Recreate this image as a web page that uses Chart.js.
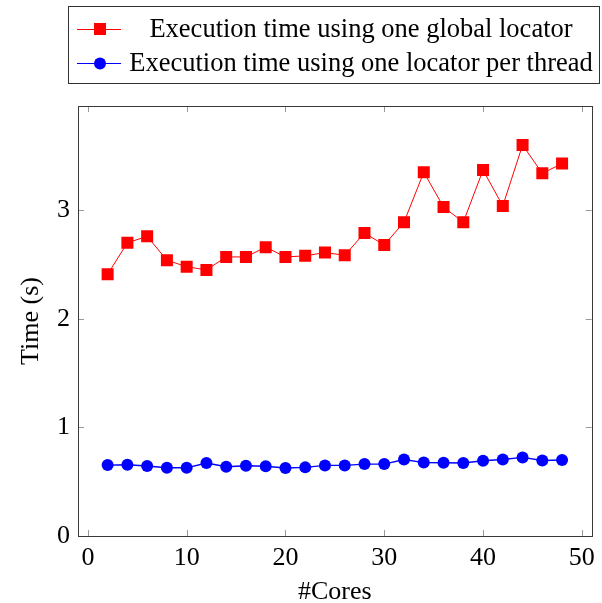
<!DOCTYPE html>
<html>
<head>
<meta charset="utf-8">
<script src="https://cdn.jsdelivr.net/npm/chart.js@4/dist/chart.umd.min.js"></script>
<style>
    html, body { margin: 0; padding: 0; background: #fff; }
    #wrap { width: 602px; height: 603px; }
</style>
</head>
<body>
<div id="wrap"><canvas id="chart" width="602" height="603"></canvas></div>
<script>
const cores = [2, 4, 6, 8, 10, 12, 14, 16, 18, 20, 22, 24, 26, 28, 30, 32, 34, 36, 38, 40, 42, 44, 46, 48];
const globalLocator = [2.41, 2.70, 2.76, 2.54, 2.48, 2.45, 2.57, 2.57, 2.66, 2.57, 2.58, 2.61,
    2.585, 2.79, 2.68, 2.89, 3.35, 3.03, 2.89, 3.37, 3.04, 3.60, 3.34, 3.43];
const perThreadLocator = [0.653, 0.656, 0.644, 0.628, 0.628, 0.672, 0.638, 0.647, 0.642, 0.626, 0.632, 0.650,
    0.650, 0.662, 0.662, 0.705, 0.676, 0.675, 0.672, 0.693, 0.705, 0.724, 0.696, 0.700];
const xTicks = [0, 10, 20, 30, 40, 50];
const yTicks = [0, 1, 2, 3];
const seriesLabels = ["Execution time using one global locator", "Execution time using one locator per thread"];

const FONT = "'Liberation Serif', 'DejaVu Serif', serif";

const boxPlugin = {
    id: "pgfBox",
    afterDraw(chart) {
        const ctx = chart.ctx;
        const area = chart.chartArea;
        const xs = chart.scales.x;
        const ys = chart.scales.y;
        ctx.save();
        // inner ticks
        ctx.strokeStyle = "#9a9a9a";
        ctx.lineWidth = 1;
        ctx.beginPath();
        xTicks.forEach((t) => {
            const px = Math.round(xs.getPixelForValue(t)) + 0.5;
            ctx.moveTo(px, area.bottom);
            ctx.lineTo(px, area.bottom - 6);
            ctx.moveTo(px, area.top);
            ctx.lineTo(px, area.top + 6);
        });
        yTicks.forEach((t) => {
            const py = Math.round(ys.getPixelForValue(t)) + 0.5;
            ctx.moveTo(area.left, py);
            ctx.lineTo(area.left + 6, py);
            ctx.moveTo(area.right, py);
            ctx.lineTo(area.right - 6, py);
        });
        ctx.stroke();
        // frame
        ctx.strokeStyle = "#3a3a3a";
        ctx.strokeRect(Math.round(area.left) + 0.5, Math.round(area.top) + 0.5,
            Math.round(area.right - area.left), Math.round(area.bottom - area.top));

        // legend
        const lx = 68.5, ly = 6.5, lw = 531, lh = 77;
        ctx.fillStyle = "#fff";
        ctx.fillRect(lx, ly, lw, lh);
        ctx.strokeStyle = "#333";
        ctx.strokeRect(lx, ly, lw, lh);
        const rows = [29, 63];
        chart.data.datasets.forEach((ds, i) => {
            const y = rows[i];
            ctx.strokeStyle = ds.borderColor;
            ctx.lineWidth = 1;
            ctx.beginPath();
            ctx.moveTo(77, y + 0.5);
            ctx.lineTo(121, y + 0.5);
            ctx.stroke();
            ctx.fillStyle = ds.backgroundColor;
            if (ds.pointStyle === "rect") {
                ctx.fillRect(94, y - 6, 12, 12);
            } else {
                ctx.beginPath();
                ctx.arc(100, y + 0.5, 6, 0, Math.PI * 2);
                ctx.fill();
            }
            ctx.fillStyle = "#000";
            ctx.font = "26.5px " + FONT;
            ctx.textAlign = "center";
            ctx.textBaseline = "middle";
            ctx.fillText(ds.label, 361, y + 1);
        });
        ctx.restore();
    },
};

new Chart(document.getElementById("chart"), {
    type: "line",
    data: {
        datasets: [
            {
                label: seriesLabels[0],
                data: cores.map((c, i) => ({ x: c, y: globalLocator[i] })),
                borderColor: "#ff0000",
                backgroundColor: "#ff0000",
                borderWidth: 1,
                pointStyle: "rect",
                pointRadius: 8.5,
                pointBorderWidth: 0,
                tension: 0,
            },
            {
                label: seriesLabels[1],
                data: cores.map((c, i) => ({ x: c, y: perThreadLocator[i] })),
                borderColor: "#0000ff",
                backgroundColor: "#0000ff",
                borderWidth: 1.4,
                pointStyle: "circle",
                pointRadius: 6,
                pointBorderWidth: 0,
                tension: 0,
            },
        ],
    },
    options: {
        responsive: false,
        animation: false,
        layout: { padding: { top: 106, right: 6, left: 0, bottom: 0 } },
        plugins: {
            legend: { display: false },
            tooltip: { enabled: false },
        },
        scales: {
            x: {
                type: "linear",
                min: -1,
                max: 51,
                afterFit: (scale) => { scale.height = 67; },
                afterBuildTicks: (scale) => { scale.ticks = xTicks.map((v) => ({ value: v })); },
                grid: { display: false, drawTicks: false },
                border: { display: false },
                ticks: { color: "#000", font: { family: FONT, size: 26 }, padding: 7, maxRotation: 0 },
                title: { display: true, text: "#Cores", color: "#000", font: { family: FONT, size: 26 }, padding: { top: 0, bottom: -5 } },
            },
            y: {
                type: "linear",
                min: 0,
                max: 3.96,
                afterFit: (scale) => { scale.width = 78; },
                afterBuildTicks: (scale) => { scale.ticks = yTicks.map((v) => ({ value: v })); },
                grid: { display: false, drawTicks: false },
                border: { display: false },
                ticks: { color: "#000", font: { family: FONT, size: 26 }, padding: 8 },
                title: { display: true, text: "Time (s)", color: "#000", font: { family: FONT, size: 26 }, padding: { top: 16, bottom: 4 } },
            },
        },
    },
    plugins: [boxPlugin],
});
</script>
</body>
</html>
